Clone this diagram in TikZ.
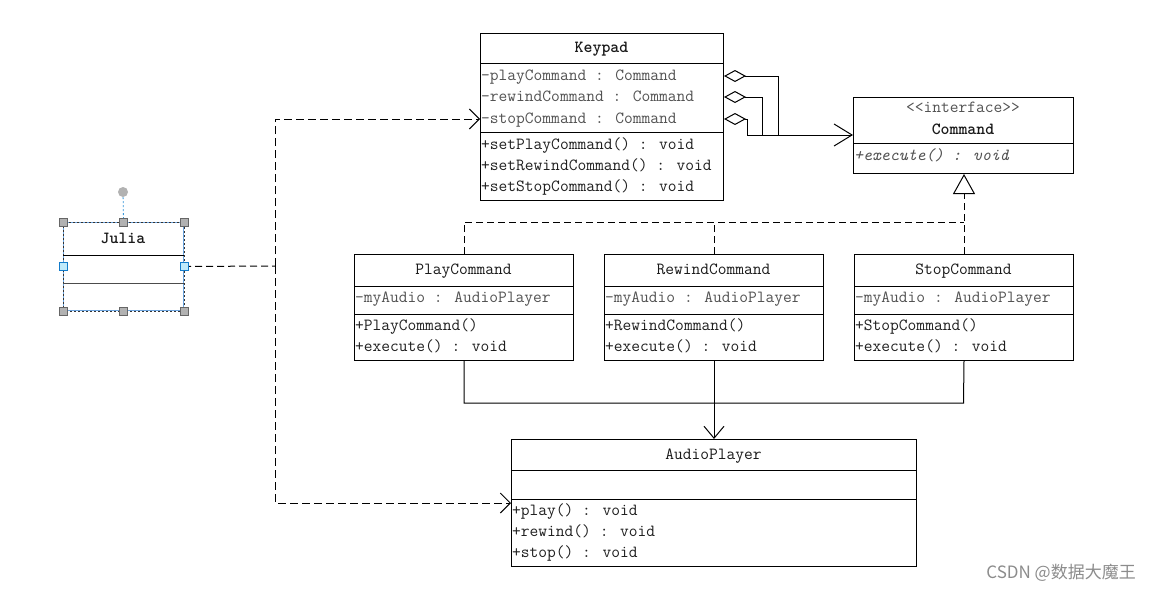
\documentclass[tikz,border=0pt]{standalone}
\usepackage{fontspec}
\newfontfamily\cjkfont{Noto Sans CJK SC}
\usepackage{tikz}
\usetikzlibrary{arrows.meta}
\usepackage{xcolor}

\tikzset{
	cls/.style={draw, line width=1pt, anchor=north west, inner sep=0pt, fill=white},
	clsname/.style={inner sep=0pt, text height=11pt, text depth=3pt, text=black!90, font=\ttfamily\fontsize{17}{18}\selectfont},
	member/.style={anchor=west, inner sep=0pt, text height=11pt, text depth=3pt, text=black!88, font=\ttfamily\fontsize{17}{18}\selectfont},
	field/.style={member, text=black!68},
	part/.style={line width=1pt},
	dep/.style={line width=1pt, dash pattern=on 8pt off 4pt, -{Straight Barb[length=10pt,width=20pt]}},
	real/.style={line width=1pt, dash pattern=on 7pt off 4pt},
	assoc/.style={line width=1pt, -{Straight Barb[length=12pt,width=20pt]}},
	agg/.style={line width=1pt, {Diamond[open,length=22pt,width=12pt]}-},
	handle/.style={draw=gray!80!black, fill=gray!60, minimum size=8pt, inner sep=0pt, line width=0.5pt},
	bluehandle/.style={handle, draw=cyan!60!blue, fill=cyan!25}
}

\begin{document}
\begin{tikzpicture}[x=1pt, y=-1pt]
				\useasboundingbox[fill=white] (0,0) rectangle (1154,592);

				\node(keypad) at (480,33)[cls, minimum width=243pt, minimum height=167pt]{};
				\draw[part] (keypad.west |- 0,63) -- (keypad.east |- 0,63);
				\draw[part] (keypad.west |- 0,132) -- (keypad.east |- 0,132);
				\node(kpName) at (601.5,48)[clsname]{\bfseries Keypad};
				\node(kpPlay) at (481,76)[field]{-playCommand : Command};
				\node(kpRewind) at (481,97)[field]{-rewindCommand : Command};
				\node(kpStop) at (481,119)[field]{-stopCommand : Command};
				\node(kpSetPlay) at (481,145)[member]{+setPlayCommand() : void};
				\node(kpSetRewind) at (481,166)[member]{+setRewindCommand() : void};
				\node(kpSetStop) at (481,187)[member]{+setStopCommand() : void};

				\node(command) at (853,97)[cls, minimum width=220pt, minimum height=76pt]{};
				\draw[part] (command.west |- 0,143) -- (command.east |- 0,143);
				\node(cmdStereo) at (963,108)[clsname, text=black!68]{<{}<interface>{}>};
				\node(cmdName) at (963,130)[clsname]{\bfseries Command};
				\node(cmdExec) at (854,156)[field]{\itshape +execute() : void};

				\node(play) at (354,254)[cls, minimum width=219pt, minimum height=106pt]{};
				\draw[part] (play.west |- 0,286) -- (play.east |- 0,286);
				\draw[part] (play.west |- 0,314) -- (play.east |- 0,314);
				\node(playName) at (463.5,270)[clsname]{PlayCommand};
				\node(playAudio) at (355,298)[field]{-myAudio : AudioPlayer};
				\node(playCtor) at (355,326)[member]{+PlayCommand()};
				\node(playExec) at (355,347)[member]{+execute() : void};

				\node(rewind) at (604,254)[cls, minimum width=219pt, minimum height=106pt]{};
				\draw[part] (rewind.west |- 0,286) -- (rewind.east |- 0,286);
				\draw[part] (rewind.west |- 0,314) -- (rewind.east |- 0,314);
				\node(rewindName) at (713.5,270)[clsname]{RewindCommand};
				\node(rewindAudio) at (605,298)[field]{-myAudio : AudioPlayer};
				\node(rewindCtor) at (605,326)[member]{+RewindCommand()};
				\node(rewindExec) at (605,347)[member]{+execute() : void};

				\node(stop) at (854,254)[cls, minimum width=219pt, minimum height=106pt]{};
				\draw[part] (stop.west |- 0,286) -- (stop.east |- 0,286);
				\draw[part] (stop.west |- 0,314) -- (stop.east |- 0,314);
				\node(stopName) at (963.5,270)[clsname]{StopCommand};
				\node(stopAudio) at (855,298)[field]{-myAudio : AudioPlayer};
				\node(stopCtor) at (855,326)[member]{+StopCommand()};
				\node(stopExec) at (855,347)[member]{+execute() : void};

				\node(audio) at (511,439)[cls, minimum width=405pt, minimum height=127pt]{};
				\draw[part] (audio.west |- 0,470) -- (audio.east |- 0,470);
				\draw[part] (audio.west |- 0,499) -- (audio.east |- 0,499);
				\node(audioName) at (713.5,455)[clsname]{AudioPlayer};
				\node(audioPlay) at (512,511)[member]{+play() : void};
				\node(audioRewind) at (512,532)[member]{+rewind() : void};
				\node(audioStop) at (512,553)[member]{+stop() : void};

				\node(julia) at (63,222)[cls, draw=cyan!60!blue!60, minimum width=120pt, minimum height=88pt]{};
				\draw[black!80, line width=0.8pt, dash pattern=on 2pt off 2pt] (julia.north west) rectangle (julia.south east);
				\draw[part] (julia.west |- 0,255) -- (julia.east |- 0,255);
				\draw[part, black!70] (julia.west |- 0,283) -- (julia.east |- 0,283);
				\node(juliaName) at (123,239)[clsname]{\bfseries Julia};

				\coordinate(aggJoin) at (747,135);
				\coordinate(realTop) at (963.5,222);
				\coordinate(audioJoin) at (963.5,403);
				\coordinate(fork) at (275,266);

				\draw[agg] (keypad.east |- kpPlay) -| (778,135);
				\draw[agg] (keypad.east |- kpRewind) -| (762,135);
				\draw[agg] (keypad.east |- kpStop) -| (aggJoin);
				\draw[line width=1pt, -{Straight Barb[length=18pt,width=22pt]}] (aggJoin) -- (aggJoin -| command.west);

				\draw[real] (play.north) |- (realTop);
				\draw[real] (rewind.north) -- (rewind.north |- realTop);
				\draw[real, -{Triangle[open,length=20pt,width=22pt]}] (stop.north) -- (stop.north |- command.south);

				\draw[line width=1pt] (play.south) |- (audioJoin) -- (stop.south);
				\draw[assoc] (rewind.south) -- (audio.north);

				\draw[real] (julia.east) -- (fork);
				\draw[dep] (fork) |- (keypad.west |- kpStop);
				\draw[dep] (fork) |- (audio.west |- 0,503);

				\node(jRot) at (123,192)[circle, fill=gray!60, minimum size=10pt, inner sep=0pt]{};
				\draw[cyan!70!blue!80, line width=0.8pt, dash pattern=on 2pt off 2pt] (jRot) -- (julia.north);
				\node(jNW) at (julia.north west)[handle]{};
				\node(jN) at (julia.north)[handle]{};
				\node(jNE) at (julia.north east)[handle]{};
				\node(jSW) at (julia.south west)[handle]{};
				\node(jS) at (julia.south)[handle]{};
				\node(jSE) at (julia.south east)[handle]{};
				\node(jW) at (julia.west)[bluehandle]{};
				\node(jE) at (julia.east)[bluehandle]{};

				\node(mark) at (1136,573)[anchor=east, inner sep=0pt, text=black!45, font=\cjkfont\fontsize{17}{18}\selectfont]{CSDN @数据大魔王};
			\end{tikzpicture}
\end{document}
